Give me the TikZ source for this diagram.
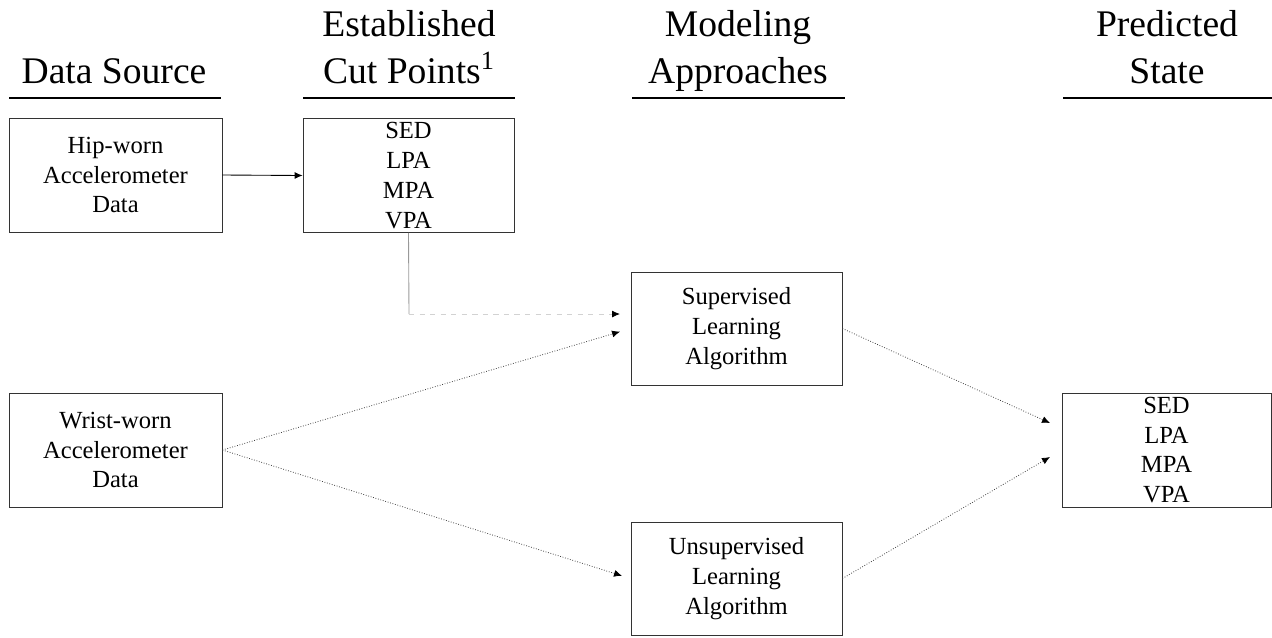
\documentclass[tikz,border=0pt]{standalone}
\usepackage{fontspec}
\setmainfont{Liberation Serif}
\usetikzlibrary{arrows, arrows.meta}

\tikzset{
  box/.style={draw=black!80, line width=0.5pt, inner sep=0pt, align=center,
    minimum width=4.22cm, minimum height=2.28cm, font=\fontsize{14}{17}\selectfont},
  head/.style={anchor=base, align=center, inner sep=0pt, font=\fontsize{21.4}{26.2}\selectfont},
  rule/.style={line width=1.1pt},
  tip/.style={-{Latex[length=1.6mm,width=1.4mm,color=black]}},
  flow/.style={tip, black!75, line width=0.45pt, densely dotted},
}

\begin{document}
\begin{tikzpicture}[x=0.02cm, y=-0.02cm]
\useasboundingbox (0,0) rectangle (1272,637);
%headers (base = last line)
\node[head] (hsrc)  at (114,83){Data Source};
\node[head] (hcut)  at (409,83){Established\\Cut Points\textsuperscript{1}};
\node[head] (hmod)  at (738,83){Modeling\\Approaches};
\node[head] (hpred) at (1167,83){Predicted\\State};
\draw[rule](9,98) -- (221,98);
\draw[rule](303,98) -- (515,98);
\draw[rule](632,98) -- (845,98);
\draw[rule](1063,98) -- (1272,98);
%boxes
\node[box, minimum width=4.26cm] (hip)   at (115.5,175){Hip-worn\\Accelerometer\\Data};
\node[box] (cut)   at (408.5,175.5){SED\\LPA\\MPA\\VPA};
\node[box, minimum height=2.26cm] (sup)   at (736.5,328.5){Supervised\\Learning\\Algorithm};
\node[box, minimum width=4.26cm] (wrist) at (115.5,450){Wrist-worn\\Accelerometer\\Data};
\node[box, minimum height=2.26cm] (unsup) at (736.5,578.5){Unsupervised\\Learning\\Algorithm};
\node[box, minimum width=4.18cm] (pred)  at (1166.5,450){SED\\LPA\\MPA\\VPA};
%arrow ends
\coordinate (bend)   at (409,314);
\coordinate (supin)  at (620,314);
\coordinate (predin1) at (1050,423);
\coordinate (predin2) at (1050,457);
%connectors
\draw[tip, line width=0.5pt](hip.east) -- (cut.west);
\draw[gray!80, line width=0.5pt](cut.south) -- (bend);
\draw[tip, gray!35, line width=0.5pt, dashed](bend) -- (supin);
\draw[flow, shorten >=0.22cm](wrist.east) -- (sup.west);
\draw[flow, shorten >=0.18cm](wrist.east) -- (unsup.west);
\draw[flow](sup.east) -- (predin1);
\draw[flow](unsup.east) -- (predin2);
\end{tikzpicture}
\end{document}
